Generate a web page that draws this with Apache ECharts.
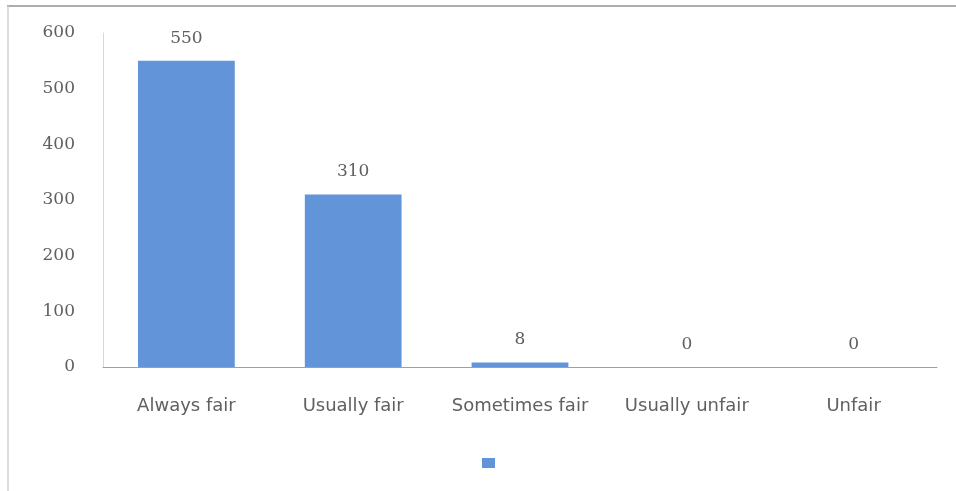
<!DOCTYPE html>
<html><head><meta charset="utf-8">
<script src="https://cdn.jsdelivr.net/npm/echarts@6/dist/echarts.min.js"></script>
<style>html,body{margin:0;padding:0;background:#fff}#c{width:956px;height:491px}</style>
</head><body><div id="c"></div>
<script>
const categories = ['Always fair', 'Usually fair', 'Sometimes fair', 'Usually unfair', 'Unfair'];
const values = [550, 310, 8, 0, 0];
const yTicks = { min: 0, max: 600, interval: 100 };
const seriesName = ' ';

const chart = echarts.init(document.getElementById('c'), null, { renderer: 'canvas' });
chart.setOption({
  backgroundColor: '#fff',
  animation: false,
  graphic: [
    { type: 'line', shape: { x1: 7, y1: 6, x2: 956, y2: 6 }, style: { stroke: '#adadad', lineWidth: 2 } },
    { type: 'line', shape: { x1: 8, y1: 6, x2: 8, y2: 491 }, style: { stroke: '#cfcfcf', lineWidth: 1.5 } }
  ],
  grid: { left: 103, right: 19, top: 33, bottom: 124 },
  legend: {
    data: [seriesName], left: 477, top: 453,
    icon: 'rect', itemWidth: 13, itemHeight: 10,
    textStyle: { fontSize: 1, color: '#fff' }
  },
  xAxis: {
    type: 'category', data: categories,
    axisLine: { lineStyle: { color: '#a0a0a0', width: 1 } },
    axisTick: { show: false },
    axisLabel: { color: '#606060', fontFamily: 'DejaVu Sans', fontSize: 18, margin: 30, interval: 0 }
  },
  yAxis: {
    type: 'value', min: yTicks.min, max: yTicks.max, interval: yTicks.interval,
    axisLine: { show: true, lineStyle: { color: '#d8d8d8', width: 1 } },
    axisTick: { show: false },
    splitLine: { show: false },
    axisLabel: { color: '#606060', fontFamily: 'DejaVu Serif', fontSize: 17, margin: 28 }
  },
  series: [{
    name: seriesName, type: 'bar', data: values, barWidth: '58%',
    itemStyle: { color: '#6194d9' },
    label: { show: true, position: 'top', distance: 14, color: '#606060', fontFamily: 'DejaVu Serif', fontSize: 17 }
  }]
});
</script></body></html>
